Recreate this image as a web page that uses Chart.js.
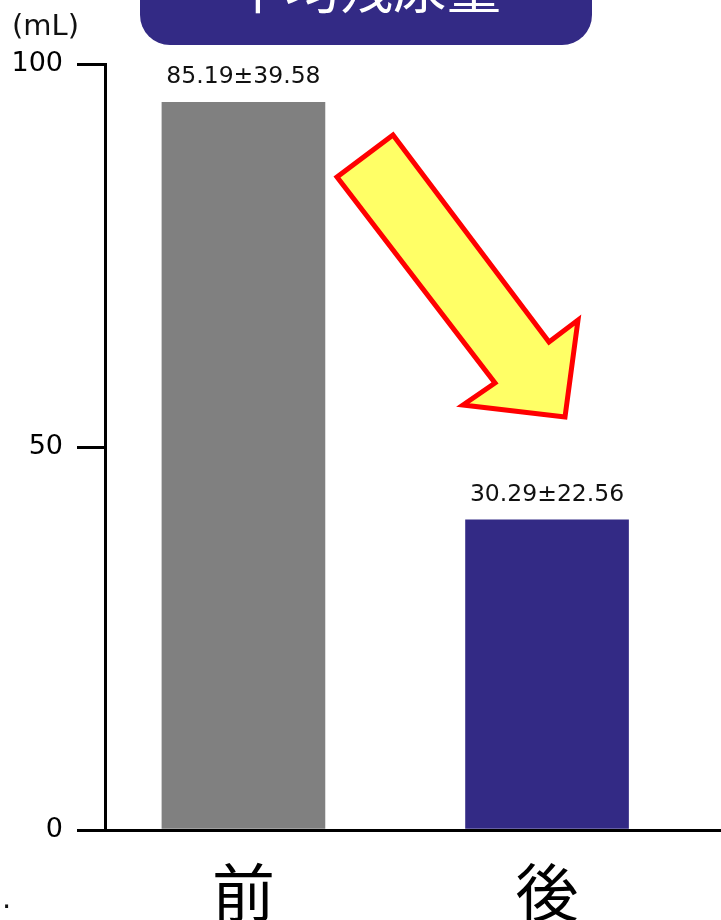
<html>
  <head>
    <script src="https://cdn.jsdelivr.net/npm/chart.js@4/dist/chart.umd.min.js"></script>
    <style>
      body { margin: 0; background: #fff; overflow: hidden; }
      #wrap { width: 721px; height: 920px; }
    </style>
    <script>
      var title = '平均残尿量'
      var unitLabel = '(mL)'
      var categories = ['前', '後']
      var barValues = [95, 40.5]
      var valueLabels = ['85.19±39.58', '30.29±22.56']
      var barColors = ['#808080', '#332a85']
      var yTicks = [0, 50, 100]

      // title box, unit, arrow, value labels
      var decorations = {
        id: 'decorations',
        afterDatasetsDraw: function (chart) {
          var ctx = chart.ctx
          var meta = chart.getDatasetMeta(0)
          ctx.save()
          ctx.font = '23.5px "DejaVu Sans"'
          ctx.fillStyle = '#111'
          ctx.textAlign = 'center'
          ctx.textBaseline = 'alphabetic'
          meta.data.forEach(function (bar, i) {
            ctx.fillText(valueLabels[i], bar.x, bar.y - 19)
          })
          ctx.restore()
        },
        afterDraw: function (chart) {
          var ctx = chart.ctx
          ctx.save()
          // title box (cut off at the top)
          ctx.fillStyle = '#332a85'
          ctx.beginPath()
          ctx.roundRect(140, -60, 452, 105, 30)
          ctx.fill()
          ctx.fillStyle = '#fff'
          ctx.font = '54px "Noto Sans CJK JP"'
          ctx.textAlign = 'center'
          ctx.textBaseline = 'middle'
          ctx.fillText(title, 366, -12)
          // unit
          ctx.fillStyle = '#111'
          ctx.font = '29px "DejaVu Sans"'
          ctx.textAlign = 'left'
          ctx.fillText(unitLabel, 12, 27)
          ctx.fillText('.', 2, 900)
          // arrow
          ctx.beginPath()
          ctx.moveTo(337, 177)
          ctx.lineTo(393, 135)
          ctx.lineTo(549, 342)
          ctx.lineTo(578, 320)
          ctx.lineTo(565, 417)
          ctx.lineTo(463, 405)
          ctx.lineTo(495, 383)
          ctx.closePath()
          ctx.fillStyle = '#ffff66'
          ctx.fill()
          ctx.lineWidth = 5
          ctx.lineJoin = 'miter'
          ctx.strokeStyle = '#ff0000'
          ctx.stroke()
          ctx.restore()
        }
      }

      function init() {
        new Chart(document.getElementById('chart'), {
          type: 'bar',
          data: {
            datasets: [
              {
                data: barValues.map(function (v, i) { return { x: i, y: v } }),
                backgroundColor: barColors,
                barThickness: 163,
              },
            ],
          },
          options: {
            animation: false,
            responsive: false,
            layout: { padding: { top: 64, right: 0, bottom: 0, left: 0 } },
            plugins: { legend: { display: false }, tooltip: { enabled: false } },
            scales: {
              x: {
                type: 'linear',
                offset: false,
                min: -0.456,
                max: 1.573,
                afterBuildTicks: function (scale) {
                  scale.ticks = categories.map(function (c, i) { return { value: i } })
                },
                afterFit: function (scale) { scale.height = 90 },
                grid: { display: false },
                border: { display: true, color: '#000', width: 3 },
                ticks: {
                  padding: 16,
                  color: '#000',
                  font: { family: '"Noto Sans CJK JP"', size: 63 },
                  callback: function (v) { return categories[v] },
                },
              },
              y: {
                min: 0,
                max: 100,
                afterBuildTicks: function (scale) {
                  scale.ticks = yTicks.map(function (v) { return { value: v } })
                },
                afterFit: function (scale) { scale.width = 105 },
                grid: { drawOnChartArea: false, tickLength: 28, color: '#000', lineWidth: 3 },
                border: { display: true, color: '#000', width: 3 },
                ticks: {
                  padding: 14,
                  color: '#000',
                  font: { family: '"DejaVu Sans"', size: 27 },
                },
              },
            },
          },
          plugins: [decorations],
        })
      }
    </script>
  </head>
  <body onload="init()">
    <div id="wrap"><canvas id="chart" width="721" height="920"></canvas></div>
  </body>
</html>
